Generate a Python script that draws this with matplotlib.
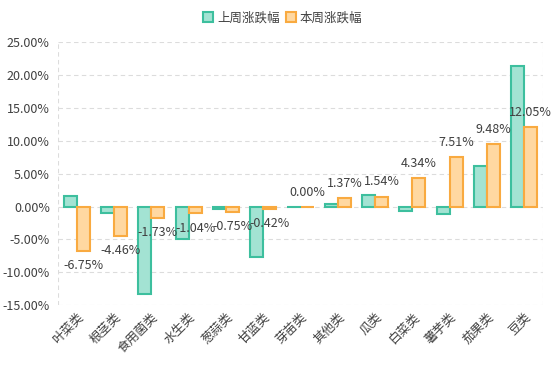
import numpy as np
import matplotlib
matplotlib.use("Agg")
import matplotlib.pyplot as plt
from matplotlib.ticker import FuncFormatter

plt.rcParams['font.family'] = ['Noto Sans CJK SC', 'DejaVu Sans']

categories = ["叶菜类", "根茎类", "食用菌类", "水生类", "葱蒜类", "甘蓝类", "芽苗类",
              "其他类", "瓜类", "白菜类", "薯芋类", "茄果类", "豆类"]
last_week = [1.6, -0.9, -13.3, -5.0, -0.4, -7.6, 0.0, 0.4, 1.8, -0.6, -1.1, 6.2, 21.4]
this_week = [-6.75, -4.46, -1.73, -1.04, -0.75, -0.42, 0.00, 1.37, 1.54, 4.34, 7.51, 9.48, 12.05]
series_names = ["上周涨跌幅", "本周涨跌幅"]

txt = "#404040"
fs = 9
fig = plt.figure(figsize=(5.54, 3.69), dpi=100)
ax = fig.add_axes([0.105, 0.173, 0.875, 0.712])

x = np.arange(len(categories))
w = 0.35
ax.bar(x - w / 2, last_week, w, color="#a3e3d3", edgecolor="#3dbf9e", lw=1.5,
       label=series_names[0], zorder=3)
ax.bar(x + w / 2, this_week, w, color="#ffd8a1", edgecolor="#f9aa40", lw=1.5,
       label=series_names[1], zorder=3)

for xi, v in zip(x, this_week):
    off = 10.5 if v >= 0 else -10.5
    ax.annotate(f"{v:.2f}%", (xi + w / 2, v), xytext=(0, off), textcoords="offset points",
                ha="center", va="center", fontsize=fs, color=txt, zorder=4)

ax.set_xlim(-0.5, len(categories) - 0.5)
ax.set_ylim(-15, 25)
ax.set_yticks(np.arange(-15, 26, 5))
ax.yaxis.set_major_formatter(FuncFormatter(lambda v, p: f"{v:.2f}%"))
ax.set_xticks(x)
ax.set_xticklabels(categories, rotation=45, ha="right", rotation_mode="anchor")
ax.tick_params(axis="both", length=0, labelsize=fs, colors=txt)
ax.tick_params(axis="y", pad=6)
ax.tick_params(axis="x", pad=4)

ax.grid(axis="y", ls=(0, (4, 3)), color="#dcdcdc", lw=0.8, zorder=0)
for s in ["top", "bottom", "left", "right"]:
    ax.spines[s].set_visible(False)
for xv in ax.get_xlim():
    ax.axvline(xv, ls=(0, (4, 3)), color="#dcdcdc", lw=0.8, zorder=0)

fig.legend(loc="upper center", bbox_to_anchor=(0.51, 1.0), ncol=2, frameon=False,
           fontsize=fs, handlelength=0.8, handleheight=0.8, handletextpad=0.3,
           columnspacing=0.5, labelcolor=txt)

fig.savefig("out.png", dpi=100)
